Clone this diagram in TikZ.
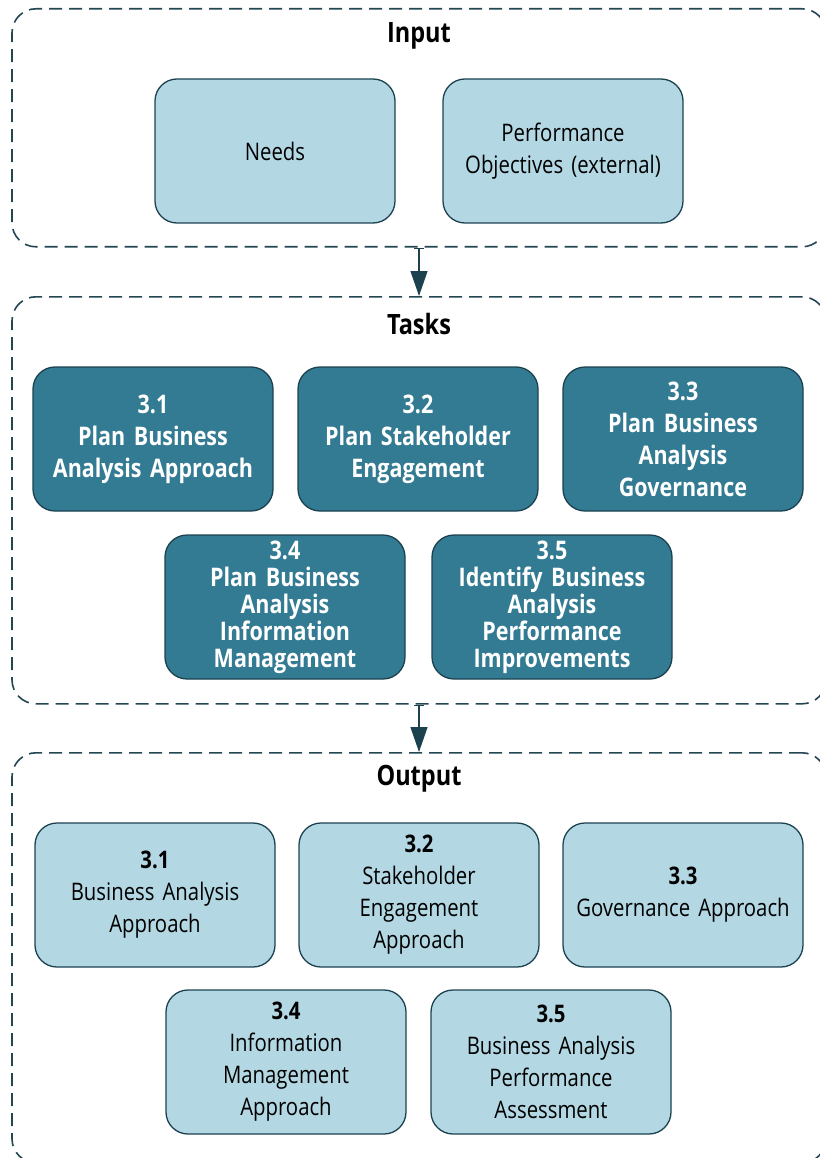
\documentclass[tikz,border=0pt]{standalone}
\usepackage{fontspec}
\setmainfont{Open Sans}[FakeStretch=0.84]
\usetikzlibrary{positioning,arrows.meta}
\definecolor{lightfill}{HTML}{B3D8E4}
\definecolor{darkfill}{HTML}{337B92}
\definecolor{edgeline}{HTML}{1C4250}
\definecolor{dashline}{HTML}{244652}
\begin{document}
\begin{tikzpicture}[x=1pt,y=-1pt,node distance=265pt,on grid,
    group/.style={draw=dashline,line width=1.6pt,dash pattern=on 13pt off 7pt,
      rounded corners=24pt,minimum width=814pt,anchor=north,inner sep=0pt},
    grouptitle/.style={font=\bfseries\fontsize{28}{32}\selectfont},
    itembox/.style={draw=edgeline,line width=1.3pt,fill=lightfill,rounded corners=22pt,
      minimum width=240pt,minimum height=144pt,text width=230pt,align=center,
      font=\fontsize{24.2}{32}\selectfont},
    taskbox/.style={itembox,fill=darkfill,text=white,font=\bfseries\fontsize{25.6}{32}\selectfont},
    tightbox/.style={taskbox,font=\bfseries\fontsize{25.6}{27}\selectfont},
    flow/.style={draw=edgeline,line width=1.3pt,{Bar[width=10pt]}-{Triangle[length=25pt,width=17pt]},fill=edgeline}]
  \useasboundingbox (0,0) rectangle (819,1158);
  % groups
  \node[group,minimum height=238pt] (input) at (419,8) {};
  \node[group,minimum height=407pt] (tasks) at (419,296) {};
  \node[group,minimum height=410pt] (output) at (419,752) {};
  \node[grouptitle] (inputtitle) at ([yshift=-28pt]input.north) {Input};
  \node[grouptitle] (taskstitle) at ([yshift=-28pt]tasks.north) {Tasks};
  \node[grouptitle] (outputtitle) at ([yshift=-27pt]output.north) {Output};
  % input
  \node[itembox] (needs) at (275,151) {Needs};
  \node[itembox] (perf) [right=288pt of needs] {Performance\\Objectives (external)};
  % tasks
  \node[taskbox] (t31) at (153,439) {3.1\\Plan Business\\Analysis Approach};
  \node[taskbox] (t32) [right=of t31] {3.2\\Plan Stakeholder\\Engagement};
  \node[taskbox] (t33) [right=of t32] {3.3\\Plan Business\\Analysis\\Governance};
  \node[tightbox] (t34) at (285,607) {3.4\\Plan Business\\Analysis\\Information\\Management};
  \node[tightbox] (t35) [right=267pt of t34] {3.5\\Identify Business\\Analysis\\Performance\\Improvements};
  % output
  \node[itembox] (o31) at (155,895) {\textbf{3.1}\\Business Analysis\\Approach};
  \node[itembox] (o32) [right=264pt of o31] {\textbf{3.2}\\Stakeholder\\Engagement\\Approach};
  \node[itembox] (o33) [right=264pt of o32] {\textbf{3.3}\\Governance Approach};
  \node[itembox] (o34) at (286,1062) {\textbf{3.4}\\Information\\Management\\Approach};
  \node[itembox] (o35) [right=265pt of o34] {\textbf{3.5}\\Business Analysis\\Performance\\Assessment};
  % flow
  \draw[flow] (input.south) -- (tasks.north);
  \draw[flow] (tasks.south) -- (output.north);
\end{tikzpicture}
\end{document}
